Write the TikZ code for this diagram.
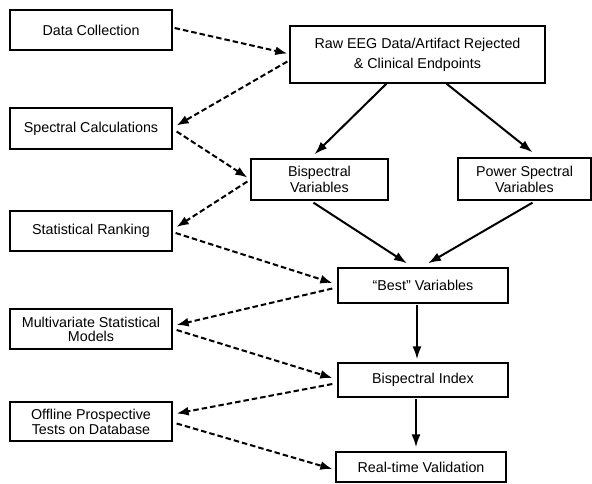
\documentclass[tikz,border=0pt]{standalone}
\usepackage{fontspec}
\setmainfont{Liberation Sans}
\usetikzlibrary{arrows.meta}
\begin{document}
\begin{tikzpicture}[x=1pt,y=-1pt,
  box/.style={draw, line width=1.3pt, inner sep=0pt, align=center,
    font=\fontsize{14.3}{16}\selectfont},
  dasharrow/.style={line width=2pt, dash pattern=on 5.5pt off 3pt,
    -{Latex[length=12pt,width=9pt]}},
  solidarrow/.style={line width=2pt, -{Latex[length=13pt,width=9pt]}}]
\useasboundingbox (0,0) rectangle (592,483);
% left column
\node[box, minimum width=162pt, minimum height=40pt] (dc) at (91,30) {Data Collection};
\node[box, minimum width=162pt, minimum height=41pt] (sc) at (91,128.5) {Spectral Calculations};
\node[box, minimum width=162pt, minimum height=40pt] (sr) at (91,231) {Statistical Ranking};
\node[box, minimum width=162pt, minimum height=40pt,
  font=\fontsize{14.3}{14}\selectfont] (mv) at (91,329) {Multivariate Statistical\\Models};
\node[box, minimum width=162pt, minimum height=39pt,
  font=\fontsize{14.3}{15}\selectfont] (op) at (91,421.5) {Offline Prospective\\Tests on Database};
% right column
\node[box, minimum width=255pt, minimum height=57pt,
  font=\fontsize{14.3}{20}\selectfont] (raw) at (417.5,54.5) {Raw EEG Data/Artifact Rejected\\\& Clinical Endpoints};
\node[box, minimum width=137pt, minimum height=41pt] (bv) at (319.5,179.5) {Bispectral\\Variables};
\node[box, minimum width=133pt, minimum height=42pt] (ps) at (524.5,179) {Power Spectral\\Variables};
\node[box, minimum width=170pt, minimum height=35pt] (best) at (423,285.5) {``Best'' Variables};
\node[box, minimum width=170pt, minimum height=34pt] (bi) at (423,380) {Bispectral Index};
\node[box, minimum width=170pt, minimum height=30pt] (rt) at (421,467) {Real-time Validation};
% dashed connectors
\draw[dasharrow] ([xshift=2pt,yshift=2pt]dc.east) -- ([xshift=-2pt,yshift=1pt]raw.west);
\draw[dasharrow] ([xshift=-2pt,yshift=-7pt]raw.west) -- ([xshift=4pt,yshift=3pt]sc.east);
\draw[dasharrow] ([xshift=4pt,yshift=-3pt]sc.east) -- ([xshift=-3pt,yshift=2pt]bv.west);
\draw[dasharrow] ([xshift=-3pt,yshift=-2pt]bv.west) -- ([xshift=4pt,yshift=4pt]sr.east);
\draw[dasharrow] ([xshift=3pt,yshift=-2pt]sr.east) -- ([xshift=-5pt,yshift=2.5pt]best.west);
\draw[dasharrow] ([xshift=-5pt,yshift=-3pt]best.west) -- ([xshift=4pt,yshift=4pt]mv.east);
\draw[dasharrow] ([xshift=4pt,yshift=-1pt]mv.east) -- ([xshift=-5pt,yshift=2pt]bi.west);
\draw[dasharrow] ([xshift=-5pt,yshift=-4pt]bi.west) -- ([xshift=4pt,yshift=8pt]op.east);
\draw[dasharrow] ([xshift=4pt,yshift=-2pt]op.east) -- ([xshift=-3pt,yshift=-2pt]rt.west);
% solid connectors
\draw[solidarrow] ([xshift=-31pt]raw.south) -- ([xshift=-5pt,yshift=4pt]bv.north);
\draw[solidarrow] ([xshift=29pt]raw.south) -- ([xshift=8pt,yshift=5pt]ps.north);
\draw[solidarrow] ([xshift=-6pt,yshift=-2pt]bv.south) -- ([xshift=-16pt,yshift=4pt]best.north);
\draw[solidarrow] ([xshift=8pt,yshift=-2pt]ps.south) -- ([xshift=5pt,yshift=4pt]best.north);
\draw[solidarrow] ([xshift=-6pt,yshift=-1pt]best.south) -- ([xshift=-6pt,yshift=3pt]bi.north);
\draw[solidarrow] ([xshift=-7pt,yshift=-1pt]bi.south) -- ([xshift=-5pt,yshift=4pt]rt.north);
\end{tikzpicture}
\end{document}
